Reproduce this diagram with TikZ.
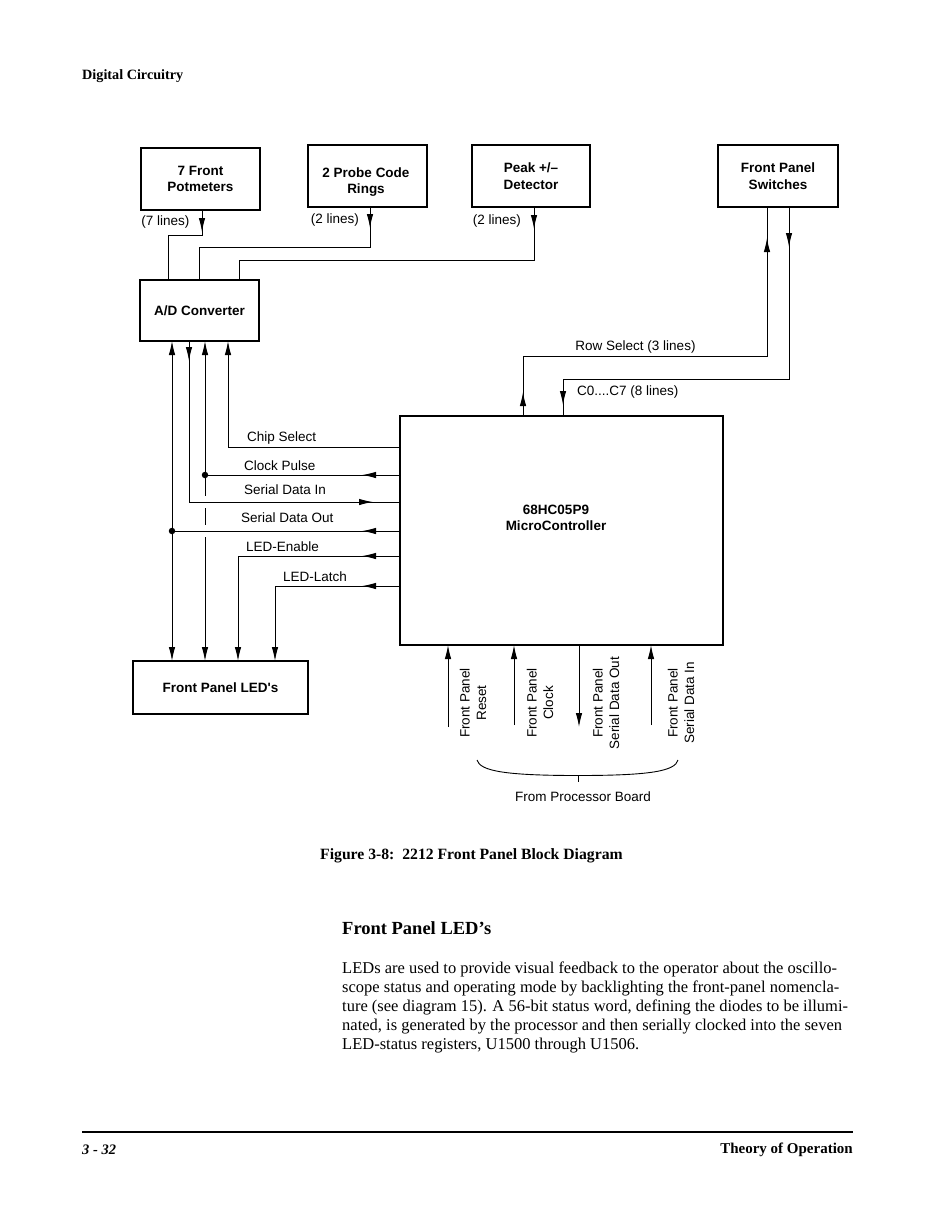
\documentclass[tikz,border=0pt]{standalone}
\usepackage{fontspec}
\setmainfont{Liberation Serif}
\setsansfont{Liberation Sans}
\usetikzlibrary{arrows.meta,decorations.markings}

\tikzset{
  box/.style={draw, line width=1.1pt, rectangle, align=center, inner sep=0pt,
    font=\sffamily\bfseries\fontsize{13.5}{16.5}\selectfont},
  boxtxt/.style={align=center, inner sep=0pt,
    font=\sffamily\bfseries\fontsize{13.5}{16.5}\selectfont},
  lbl/.style={font=\sffamily\fontsize{13.5}{16.5}\selectfont, inner sep=0pt},
  wire/.style={line width=1pt},
  tipat/.style={postaction={decorate,decoration={markings,
      mark=at position #1 with {\arrow{Latex[length=14pt,width=6.5pt]}}}}},
  endarrow/.style={-{Latex[length=14pt,width=6.5pt]}},
  dotnode/.style={circle, fill, inner sep=0pt, minimum size=6.5pt},
  serifb/.style={font=\bfseries\fontsize{#1}{#1}\selectfont, inner sep=0pt},
  bodytxt/.style={font=\fontsize{16.5}{19}\selectfont, inner sep=0pt, anchor=base west},
}

\begin{document}
\begin{tikzpicture}[x=1pt,y=-1pt]
\fill[white] (0,0) rectangle (942,1205);
\useasboundingbox (0,0) rectangle (942,1205);

% ---------- page header ----------
\node[serifb=14.2, anchor=west] (hdr) at (82,76) {Digital Circuitry};

% ---------- boxes ----------
\node[box, minimum width=119pt, minimum height=62pt] (pot) at (200.5,179) {7 Front\\Potmeters};
\node[box, minimum width=119pt, minimum height=62pt] (probe) at (367.5,176) {};
\node[boxtxt] (probelbl) at (366,182) {2 Probe Code\\Rings};
\node[box, minimum width=118pt, minimum height=62pt] (peak) at (531,176) {Peak +/--\\Detector};
\node[box, minimum width=120pt, minimum height=62pt] (sw) at (778,176) {Front Panel\\Switches};
\node[box, minimum width=119pt, minimum height=61pt] (ad) at (199.5,310.5) {A/D Converter};
\node[box, minimum width=323pt, minimum height=229pt] (mc) at (561.5,530.5) {};
\node[boxtxt] (mclbl) at (556,518) {68HC05P9\\MicroController};
\node[box, minimum width=175pt, minimum height=53pt] (led) at (220.5,687.5) {Front Panel LED\textquotesingle s};

% ---------- tap coordinates ----------
\coordinate (potB) at (202,210);
\coordinate (probeB) at (370,207);
\coordinate (peakB) at (534,207);
\coordinate (swB1) at (767,207);
\coordinate (swB2) at (789,207);
\coordinate (adT1) at (168,280);
\coordinate (adT2) at (199,280);
\coordinate (adT3) at (239,280);
\coordinate (adB1) at (172,341);
\coordinate (adB2) at (189,341);
\coordinate (adB3) at (205,341);
\coordinate (adB4) at (228,341);
\coordinate (mcT1) at (523,416);
\coordinate (mcT2) at (563,416);
\coordinate (mcL1) at (400,447);
\coordinate (mcL2) at (400,475);
\coordinate (mcL3) at (400,502);
\coordinate (mcL4) at (400,531);
\coordinate (mcL5) at (400,556);
\coordinate (mcL6) at (400,586);
\coordinate (ledT1) at (172,661);
\coordinate (ledT2) at (205,661);
\coordinate (ledT3) at (238,661);
\coordinate (ledT4) at (275,661);
\coordinate (mcB1) at (448,645);
\coordinate (mcB2) at (514,645);
\coordinate (mcB3) at (579,645);
\coordinate (mcB4) at (651,645);
\coordinate (pB1) at (448,727);
\coordinate (pB2) at (514,725);
\coordinate (pB3) at (579,727);
\coordinate (pB4) at (651,725);
\coordinate (g1a) at (205,496);
\coordinate (g1b) at (205,508);
\coordinate (g2a) at (205,525);
\coordinate (g2b) at (205,537);

% ---------- inputs to A/D ----------
\draw[wire, tipat=22pt] (potB) -- ++(0,25) -| (adT1);
\draw[wire, tipat=21pt] (probeB) -- ++(0,40) -| (adT2);
\draw[wire, tipat=22pt] (peakB) -- ++(0,53) -| (adT3);
\node[lbl] (l7) at (165.5,222) {(7 lines)};
\node[lbl] (l2a) at (335,220) {(2 lines)};
\node[lbl] (l2b) at (497,221) {(2 lines)};

% ---------- switches ----------
\draw[wire, tipat=24pt, tipat=-31pt] (mcT1) -- ++(0,-60) -| (swB1);
\draw[wire, tipat=40pt, tipat=-11pt] (swB2) -- ++(0,172) -| (mcT2);
\node[lbl] (rowsel) at (635.5,347) {Row Select (3 lines)};
\node[lbl, anchor=west] (c0c7) at (577,392) {C0....C7 (8 lines)};

% ---------- A/D <-> microcontroller ----------
\node[dotnode] (d1) at (205,475) {};
\node[dotnode] (d2) at (172,531) {};
\draw[wire, endarrow] (mcL1) -| (adB4);
\draw[wire, tipat=38pt, endarrow] (mcL2) -| (adB3);
\draw[wire, tipat=20pt, tipat=-27pt] (adB2) |- (mcL3);
\draw[wire, tipat=38pt, endarrow] (mcL4) -| (adB1);
\draw[wire, tipat=38pt, endarrow] (mcL5) -| (ledT3);
\draw[wire, tipat=38pt, endarrow] (mcL6) -| (ledT4);
\draw[wire, endarrow] (d2) -- (ledT1);
\draw[wire] (d1) -- (g1a);
\draw[wire] (g1b) -- (g2a);
\draw[wire, endarrow] (g2b) -- (ledT2);

\node[lbl, anchor=west] (cs) at (247,438) {Chip Select};
\node[lbl, anchor=west] (cp) at (244,466) {Clock Pulse};
\node[lbl, anchor=west] (sdi) at (244,490) {Serial Data In};
\node[lbl, anchor=west] (sdo) at (241,518) {Serial Data Out};
\node[lbl, anchor=west] (lede) at (246,547) {LED-Enable};
\node[lbl, anchor=west] (ledl) at (283,577) {LED-Latch};

% ---------- from processor board ----------
\draw[wire, endarrow] (pB1) -- (mcB1);
\draw[wire, endarrow] (pB2) -- (mcB2);
\draw[wire, endarrow] (mcB3) -- (pB3);
\draw[wire, endarrow] (pB4) -- (mcB4);
\node[lbl, rotate=90, align=center] (fr) at (473,703) {Front Panel\\Reset};
\node[lbl, rotate=90, align=center] (fc) at (540,703) {Front Panel\\Clock};
\node[lbl, rotate=90, align=center] (fso) at (606,703) {Front Panel\\Serial Data Out};
\node[lbl, rotate=90, align=center] (fsi) at (681,703) {Front Panel\\Serial Data In};

\coordinate (br1) at (477,760);
\coordinate (brm) at (578,775.5);
\coordinate (br2) at (678,760);
\draw[line width=0.9pt] (br1) .. controls (480,771) and (505,775.5) .. (brm)
   .. controls (651,775.5) and (675,771) .. (br2);
\draw[line width=0.9pt] (brm) -- ++(0,6.5);
\node[lbl] (fpb) at (583,797) {From Processor Board};

% ---------- caption and text ----------
\node[serifb=15.7, anchor=west] (cap) at (320,856) {Figure 3-8:\ \ 2212 Front Panel Block Diagram};
\node[serifb=18.5, anchor=west] (head) at (342,928) {Front Panel LED's};
\node[bodytxt] (t1) at (342,973) {LEDs are used to provide visual feedback to the operator about the oscillo-};
\node[bodytxt] (t2) at (342,992) {scope status and operating mode by backlighting the front-panel nomencla-};
\node[bodytxt] (t3) at (342,1011) {ture (see diagram 15). A 56-bit status word, defining the diodes to be illumi-};
\node[bodytxt] (t4) at (342,1030) {nated, is generated by the processor and then serially clocked into the seven};
\node[bodytxt] (t5) at (342,1049) {LED-status registers, U1500 through U1506.};

% ---------- footer ----------
\coordinate (fl1) at (82,1132);
\coordinate (fl2) at (853,1132);
\draw[line width=1.3pt] (fl1) -- (fl2);
\node[font=\bfseries\itshape\fontsize{14.5}{14.5}\selectfont, inner sep=0pt, anchor=west] (pg) at (82,1150) {3 - 32};
\node[serifb=15, anchor=east] (too) at (853,1150) {Theory of Operation};
\end{tikzpicture}
\end{document}
